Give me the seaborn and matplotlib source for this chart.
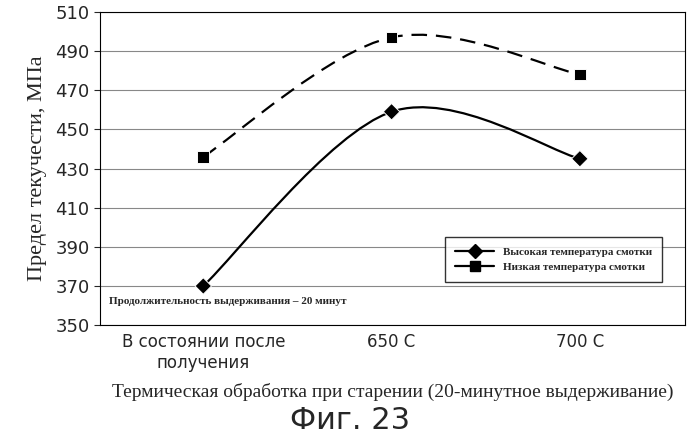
import numpy as np
import pandas as pd
import matplotlib
matplotlib.use("Agg")
import matplotlib.pyplot as plt
import seaborn as sns
from matplotlib.path import Path
from matplotlib.patches import PathPatch
from matplotlib.lines import Line2D

categories = ["В состоянии после\nполучения", "650 С", "700 С"]
high_coil = [370, 459, 435]
low_coil = [436, 497, 478]
series_names = ["Высокая температура смотки", "Низкая температура смотки"]
y_ticks = list(range(350, 511, 20))

sns.set_style("white")
fig = plt.figure(figsize=(7, 4.4), dpi=100)
ax = fig.add_axes([0.143, 0.261, 0.836, 0.712])
serif = "Liberation Serif"


def smooth_path(xs, ys):
    # excel-like smoothed line: cubic bezier through the points
    p = np.column_stack([xs, ys]).astype(float)
    verts = [p[0]]
    codes = [Path.MOVETO]
    n = len(p)
    for i in range(n - 1):
        prev = p[max(i - 1, 0)]
        nxt = p[min(i + 2, n - 1)]
        c1 = p[i] + (p[i + 1] - prev) / 6
        c2 = p[i + 1] - (nxt - p[i]) / 6
        verts += [c1, c2, p[i + 1]]
        codes += [Path.CURVE4] * 3
    return Path(verts, codes)


x = np.arange(len(categories))
ax.add_patch(PathPatch(smooth_path(x, high_coil), fill=False, lw=1.6, color="black"))
ax.add_patch(PathPatch(smooth_path(x, low_coil), fill=False, lw=1.6, color="black",
                       linestyle=(0, (7, 4))))

df = pd.DataFrame({"x": np.concatenate([x, x]),
                   "y": high_coil + low_coil,
                   "s": [series_names[0]] * 3 + [series_names[1]] * 3})
sns.scatterplot(data=df, x="x", y="y", style="s", markers=["D", "s"], color="black",
                s=70, ax=ax, legend=False, zorder=3)

ax.set_xlim(-0.548, 2.56)
ax.set_ylim(350, 510)
ax.set_yticks(y_ticks)
ax.set_yticklabels([str(v) for v in y_ticks], fontsize=13, family="DejaVu Sans")
ax.set_xticks(x)
ax.set_xticklabels(categories, fontsize=12, family="DejaVu Sans")
ax.set_xticks([0.5, 1.5], minor=True)
ax.tick_params(axis="x", which="major", length=0, pad=6)
ax.tick_params(axis="x", which="minor", length=5, direction="out")
ax.tick_params(axis="y", length=4, direction="out", left=True)
ax.grid(axis="y", color="#888888", lw=0.8)
for s in ax.spines.values():
    s.set_color("black")
ax.set_xlabel("Термическая обработка при старении (20-минутное выдерживание)",
              fontsize=14, family=serif, labelpad=8)
ax.set_ylabel("Предел текучести, МПа", fontsize=16, family=serif, labelpad=6)

ax.text(-0.5, 362, "Продолжительность выдерживания – 20 минут", fontsize=8,
        fontweight="bold", family=serif, va="center")

handles = [Line2D([], [], color="black", marker="D", lw=1.6, ms=7),
           Line2D([], [], color="black", marker="s", lw=1.6, ms=7)]
leg = ax.legend(handles, series_names, loc="lower right", bbox_to_anchor=(0.97, 0.12),
                prop={"family": serif, "weight": "bold", "size": 8}, frameon=True,
                fancybox=False, edgecolor="black", handlelength=3.5, borderpad=0.9)
leg.get_frame().set_linewidth(1.0)

fig.text(0.5, 0.025, "Фиг. 23", ha="center", fontsize=22, family="DejaVu Sans")
fig.savefig("out.png", dpi=100)
